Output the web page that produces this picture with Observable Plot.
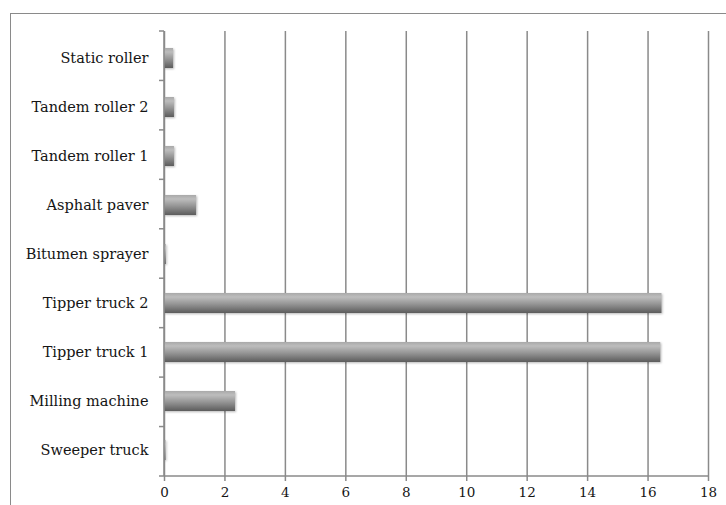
<!DOCTYPE html>
<html>
<head>
<meta charset="utf-8">
<script src="https://cdn.jsdelivr.net/npm/d3@7"></script>
<script src="https://cdn.jsdelivr.net/npm/@observablehq/plot@0.6"></script>
<style>
  html, body { margin: 0; padding: 0; background: #fff; overflow: hidden; }
  #wrap { position: relative; width: 726px; height: 505px; overflow: hidden; }
  #frame { position: absolute; left: 10px; top: 13px; width: 800px; height: 600px;
           border-left: 1.5px solid #8a8a8a; border-top: 1.5px solid #8a8a8a; box-sizing: border-box; }
  #chart { position: absolute; left: 0; top: 0; }
  .bars rect { filter: drop-shadow(1px 1px 1px rgba(0,0,0,0.28)); }
</style>
</head>
<body>
<div id="wrap"><div id="frame"></div><div id="chart"></div></div>
<script>
const categories = ["Static roller", "Tandem roller 2", "Tandem roller 1", "Asphalt paver", "Bitumen sprayer", "Tipper truck 2", "Tipper truck 1", "Milling machine", "Sweeper truck"];
const values = [0.30, 0.33, 0.33, 1.06, 0.06, 16.46, 16.42, 2.35, 0.05];
const xTicks = [0, 2, 4, 6, 8, 10, 12, 14, 16, 18];

const data = categories.map((c, i) => ({cat: c, value: values[i]}));
const font = "'DejaVu Serif', 'Liberation Serif', serif";

const axisLines = (index, scales, channels, dims) => {
  const g = d3.create("svg:g").attr("stroke", "#8a8a8a").attr("stroke-width", 1.5);
  const top = dims.marginTop, bottom = dims.height - dims.marginBottom;
  const left = dims.marginLeft, right = dims.width - dims.marginRight;
  const step = (bottom - top) / categories.length;
  g.append("line").attr("x1", left).attr("x2", right).attr("y1", bottom).attr("y2", bottom);
  g.append("line").attr("x1", left).attr("x2", left).attr("y1", top).attr("y2", bottom);
  for (let k = 0; k <= categories.length; k++) {
    const y = top + k * step;
    g.append("line").attr("x1", left - 5).attr("x2", left).attr("y1", y).attr("y2", y);
  }
  return g.node();
};

const chart = Plot.plot({
  width: 726,
  height: 505,
  marginLeft: 164,
  marginRight: 18,
  marginTop: 31,
  marginBottom: 29,
  style: {fontFamily: font, fontSize: "14.5px", color: "#151515", background: "transparent"},
  x: {domain: [0, 18], ticks: xTicks, label: null},
  y: {domain: categories, paddingInner: 0.6, paddingOuter: 0.3, label: null},
  marks: [
    Plot.gridX(xTicks, {stroke: "#8a8a8a", strokeOpacity: 1, strokeWidth: 1.5}),
    Plot.barX(data, {x: "value", y: "cat", fill: "url(#barGrad)", className: "bars"}),
    axisLines,
    Plot.axisX({ticks: xTicks, tickSize: 5, tickPadding: 6, stroke: "#8a8a8a", strokeWidth: 1.5, fill: "#151515", fontSize: 13.5, label: null, tickFormat: d => d}),
    Plot.axisY({tickSize: 0, tickPadding: 16, fill: "#151515", fontSize: 14.5, label: null})
  ]
});

const svg = d3.select(chart);
const defs = svg.insert("defs", ":first-child");
const grad = defs.append("linearGradient").attr("id", "barGrad")
  .attr("x1", 0).attr("y1", 0).attr("x2", 0).attr("y2", 1);
[[0, "#a9a9a9"], [0.2, "#bdbdbd"], [0.55, "#959595"], [1, "#5c5c5c"]].forEach(([o, c]) =>
  grad.append("stop").attr("offset", o).attr("stop-color", c));

document.getElementById("chart").appendChild(chart);
</script>
</body>
</html>
